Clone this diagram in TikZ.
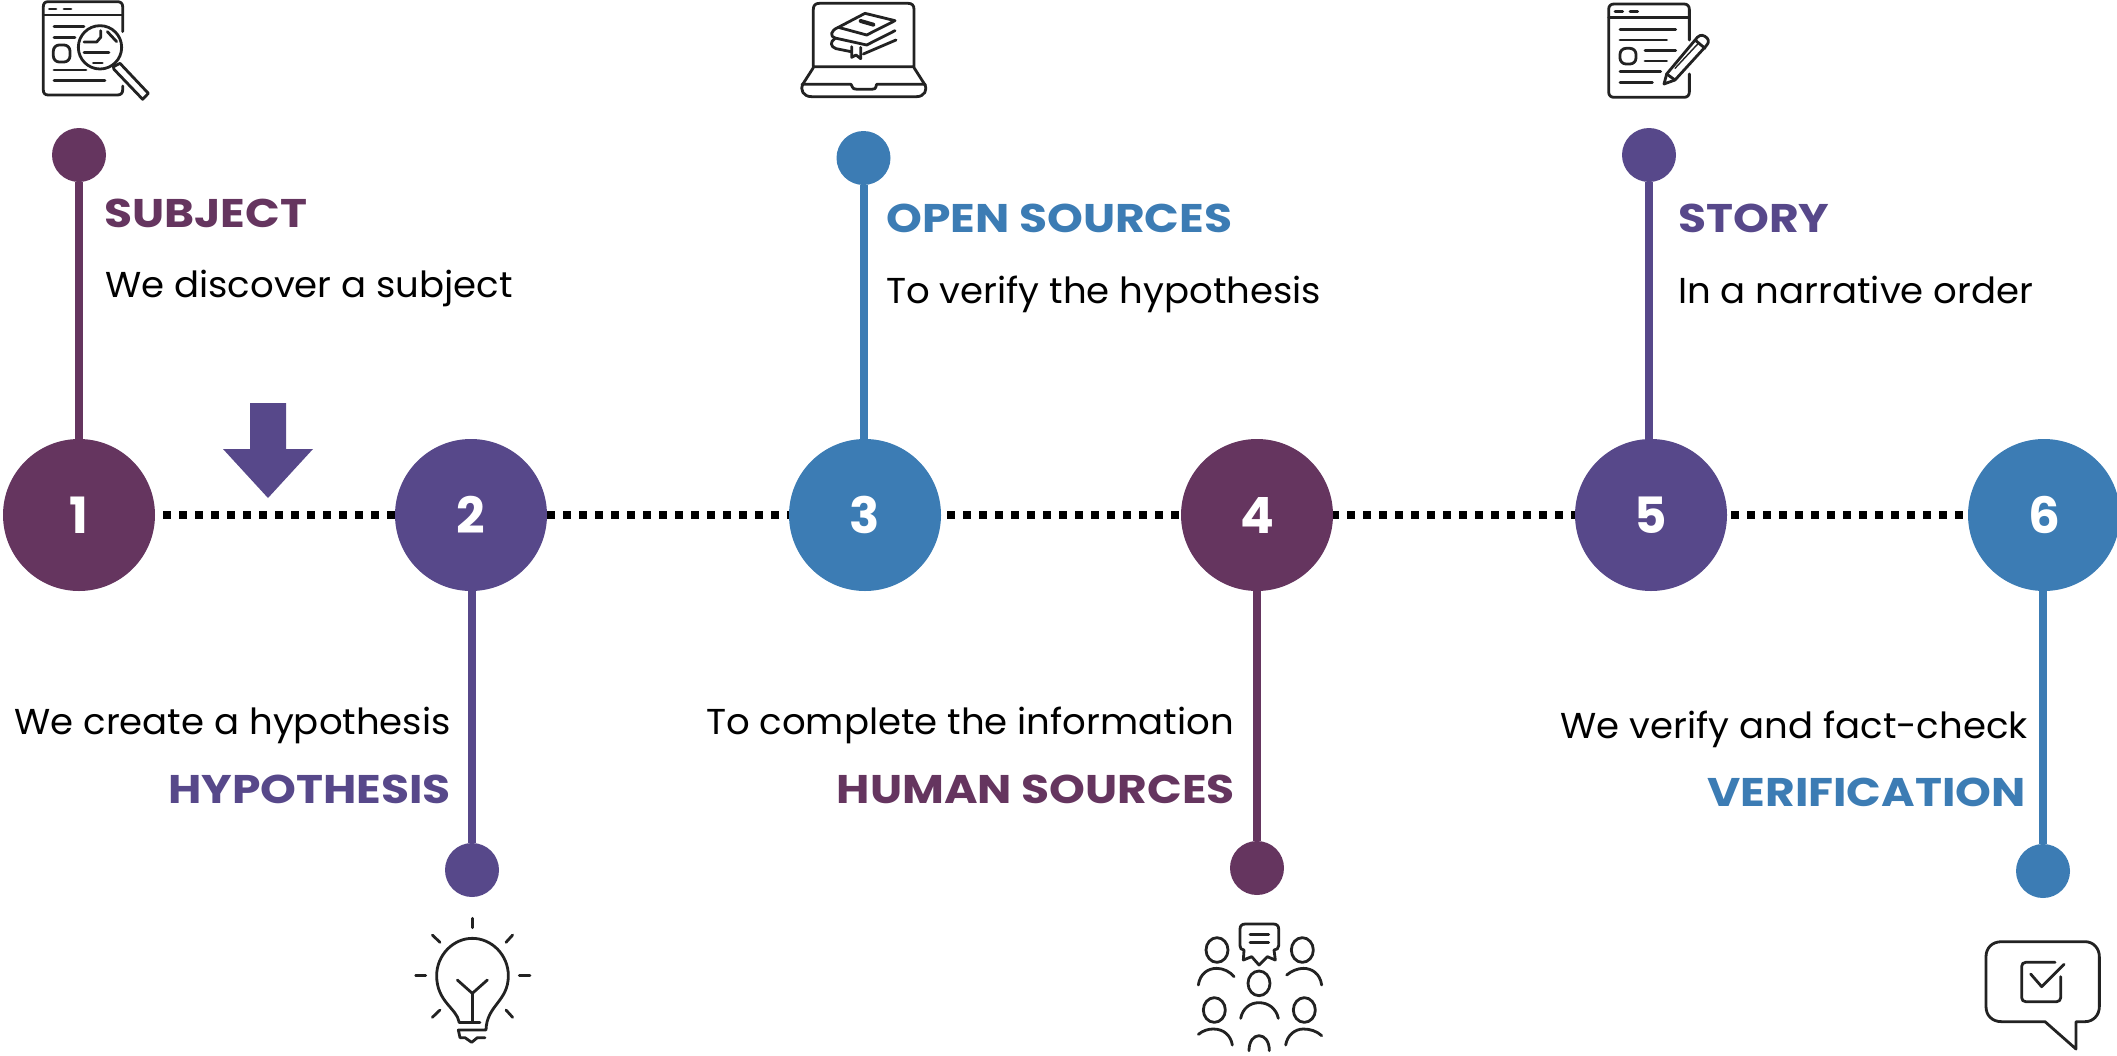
\documentclass[tikz,border=0pt]{standalone}
\usepackage{fontspec}
\usetikzlibrary{backgrounds}
\setmainfont{Poppins}
\newfontfamily\headfont[FakeStretch=1.14]{Poppins}
\newfontfamily\bodyfont[FakeStretch=1.03]{Poppins}
\definecolor{plum}{HTML}{65355F}
\definecolor{indigo}{HTML}{57488A}
\definecolor{steel}{HTML}{3C7CB4}
\definecolor{ink}{HTML}{222222}
\tikzset{
  bigdot/.style={circle,minimum size=152pt,inner sep=0pt,text=white,font=\fontsize{50}{50}\selectfont\bfseries},
  smalldot/.style={circle,minimum size=54pt,inner sep=0pt},
  stem/.style={line width=8pt},
  linkline/.style={line width=8pt,black,dash pattern=on 8pt off 8pt,shorten <=8pt},
  headtxt/.style={inner sep=0pt,font=\headfont\fontsize{40}{44}\selectfont\bfseries},
  bodytxt/.style={inner sep=0pt,text=black,font=\bodyfont\fontsize{36}{42}\selectfont},
  icon/.style={line width=2.8pt,ink,line cap=round,line join=round}
}
\begin{document}
\begin{tikzpicture}[x=1pt,y=-1pt]
\useasboundingbox (0,0) rectangle (2117,1055);
\node[bigdot,fill=plum] (c1) at (79,515) {1};
\node[bigdot,fill=indigo] (c2) at (471,515) {2};
\node[bigdot,fill=steel] (c3) at (865,515) {3};
\node[bigdot,fill=plum] (c4) at (1257,515) {4};
\node[bigdot,fill=indigo] (c5) at (1651,515) {5};
\node[bigdot,fill=steel] (c6) at (2044,515) {6};
\begin{scope}[on background layer]
\draw[linkline] (c1) -- (c6);
\end{scope}
% small dots and stems
\node[smalldot,fill=plum] (t1) at (79,155) {};
\node[smalldot,fill=steel] (t3) at (863.5,158) {};
\node[smalldot,fill=indigo] (t5) at (1649,155) {};
\node[smalldot,fill=indigo] (b2) at (472,870) {};
\node[smalldot,fill=plum] (b4) at (1257,868) {};
\node[smalldot,fill=steel] (b6) at (2043,871) {};
\draw[stem,plum] (c1) -- (t1);
\draw[stem,steel] (c3.north -| t3) -- (t3);
\draw[stem,indigo] (c5.north -| t5) -- (t5);
\draw[stem,indigo] (c2.south -| b2) -- (b2);
\draw[stem,plum] (c4) -- (b4);
\draw[stem,steel] (c6.south -| b6) -- (b6);
% arrow
\fill[indigo] (250,403) -- (286,403) -- (286,449) -- (313,449) -- (268,498) -- (223,449) -- (250,449) -- cycle;
% texts
\node[headtxt,text=plum,anchor=base west] (h1) at (104,227) {SUBJECT};
\node[bodytxt,anchor=base west] (d1) at (105,297) {We discover a subject};
\node[headtxt,text=steel,anchor=base west] (h3) at (886,232) {OPEN SOURCES};
\node[bodytxt,anchor=base west] (d3) at (886,303) {To verify the hypothesis};
\node[headtxt,text=indigo,anchor=base west] (h5) at (1678,232) {STORY};
\node[bodytxt,anchor=base west] (d5) at (1678,303) {In a narrative order};
\node[bodytxt,anchor=base east] (d2) at (451,734) {We create a hypothesis};
\node[headtxt,text=indigo,anchor=base east] (h2) at (451,803) {HYPOTHESIS};
\node[bodytxt,anchor=base east] (d4) at (1234,734) {To complete the information};
\node[headtxt,text=plum,anchor=base east] (h4) at (1235,803) {HUMAN SOURCES};
\node[bodytxt,anchor=base east] (d6) at (2028,738) {We verify and fact-check};
\node[headtxt,text=steel,anchor=base east] (h6) at (2026,806) {VERIFICATION};
% icon 1
\begin{scope}[shift={(0,0)},scale=1/3,icon]
\draw (368,95) -- (368,20) .. controls (368,10) and (362,5) .. (352,5) -- (145,5) .. controls (135,5) and (130,10) .. (130,20) -- (130,270) .. controls (130,280) and (135,285) .. (145,285) -- (352,285) .. controls (362,285) and (368,280) .. (368,270) -- (368,258);
\draw (130,45) -- (368,45);
\draw (148,27) -- (168,27); \draw (192,27) -- (213,27);
\draw (162,80) -- (252,80); \draw (162,113) -- (225,113);
\draw[rounded corners=6pt] (160,135) rectangle (210,186);
\draw (162,210) -- (258,210); \draw (162,241) -- (315,241);
\draw (300,142) circle[radius=65];
\draw (340,200) -- (360,190) -- (445,280) -- (428,298) -- (342,208) -- cycle;
\draw (252,126) -- (290,126) -- (302,112) -- (302,92);
\draw (322,95) -- (350,125);
\draw (252,158) -- (327,158); \draw (280,189) -- (307,189);
\end{scope}
% icon 3
\begin{scope}[shift={(770,0)},scale=1/3,icon]
\draw (130,200) -- (130,28) .. controls (130,16) and (136,10) .. (148,10) -- (414,10) .. controls (426,10) and (432,16) .. (432,28) -- (432,200) -- cycle;
\draw (130,203) -- (100,250) .. controls (88,270) and (100,290) .. (125,290) -- (440,290) .. controls (462,290) and (476,270) .. (462,250) -- (432,203);
\draw (96,253) -- (243,253) .. controls (250,268) and (252,268) .. (262,268) -- (305,268) .. controls (314,268) and (316,268) .. (320,253) -- (466,253);
\draw (285,40) -- (375,62) -- (290,105) -- (205,82) -- cycle;
\draw (205,82) .. controls (180,92) and (180,110) .. (195,114) -- (290,135) -- (375,92);
\draw (195,115) .. controls (180,125) and (180,140) .. (198,146) -- (243,155);
\draw (280,162) -- (378,120);
\draw (245,140) -- (245,172) -- (258,165) -- (272,176) -- (272,142);
\draw[line width=4pt] (272,63) -- (310,74);
\end{scope}
% icon 5
\begin{scope}[shift={(1570,0)},scale=1/3,icon]
\draw (358,120) -- (358,28) .. controls (358,18) and (352,12) .. (342,12) -- (132,12) .. controls (122,12) and (116,18) .. (116,28) -- (116,276) .. controls (116,286) and (122,292) .. (132,292) -- (342,292) .. controls (352,292) and (358,286) .. (358,276) -- (358,222);
\draw (116,52) -- (358,52);
\draw (135,34) -- (158,34); \draw (180,34) -- (203,34);
\draw (150,88) -- (317,88); \draw (150,120) -- (290,120);
\draw[rounded corners=6pt] (150,145) rectangle (198,192);
\draw (225,152) -- (317,152); \draw (225,183) -- (290,183);
\draw (150,215) -- (272,215); \draw (150,247) -- (247,247);
\draw (282,252) -- (290,222) -- (382,112) .. controls (392,102) and (402,105) .. (412,115) .. controls (418,124) and (415,130) .. (408,138) -- (315,240) -- cycle;
\draw (290,222) -- (315,240);
\draw (375,120) -- (405,145);
\draw[line width=1.4pt] (315,205) -- (385,130);
\end{scope}
% icon 2
\begin{scope}[shift={(380,905)},scale=1/3,icon]
\draw (277,40) -- (277,68);
\draw (157,90) -- (180,112); \draw (398,90) -- (378,112);
\draw (107,212) -- (137,212); \draw (418,212) -- (450,212);
\draw (157,337) -- (180,315); \draw (398,337) -- (378,315);
\draw (237,350) .. controls (230,310) and (170,290) .. (170,212) .. controls (170,150) and (220,100) .. (277,100) .. controls (335,100) and (385,150) .. (385,212) .. controls (385,290) and (320,300) .. (318,375) -- (235,375) -- (240,398) -- (255,398) -- (275,412) -- (292,398) -- (315,398);
\draw (232,225) -- (277,265) -- (322,225);
\draw (277,265) -- (277,350);
\draw (237,352) -- (300,352);
\end{scope}
% icon 4
\begin{scope}[shift={(1170,905)},scale=1/3,icon]
\draw (222,135) .. controls (214,135) and (210,130) .. (210,122) -- (210,72) .. controls (210,62) and (216,57) .. (226,57) -- (310,57) .. controls (320,57) and (326,62) .. (326,72) -- (326,122) .. controls (326,130) and (320,135) .. (312,135) -- (316,165) -- (292,155) -- (267,180) -- (245,155) -- (220,165) -- cycle;
\draw (240,88) -- (296,88); \draw (240,112) -- (296,112);
\foreach \hx/\hy in {141/135,397/135,267/235,133/315,403/315}
  \draw (\hx,\hy) ellipse[x radius=33,y radius=37];
\draw (85,240) .. controls (90,205) and (115,190) .. (140,190) .. controls (160,190) and (180,200) .. (192,215);
\draw (350,210) .. controls (365,197) and (385,190) .. (400,190) .. controls (425,190) and (450,205) .. (455,240);
\draw (212,340) .. controls (218,310) and (240,293) .. (267,293) .. controls (295,293) and (318,310) .. (325,340);
\draw (85,388) .. controls (100,376) and (115,372) .. (130,372) .. controls (160,372) and (182,390) .. (187,420);
\draw (347,420) .. controls (352,390) and (375,372) .. (400,372) .. controls (420,372) and (440,378) .. (455,392);
\draw (237,437) .. controls (237,410) and (250,392) .. (267,392) .. controls (285,392) and (298,410) .. (298,437);
\end{scope}
% icon 6
\begin{scope}[shift={(1960,905)},scale=1/3,icon]
\draw (255,350) -- (125,350) .. controls (95,350) and (78,330) .. (78,305) -- (78,155) .. controls (78,130) and (95,110) .. (125,110) -- (375,110) .. controls (400,110) and (418,130) .. (418,155) -- (418,305) .. controls (418,330) and (400,350) .. (375,350) -- (348,350) -- (348,432) -- cycle;
\draw (285,172) -- (197,172) .. controls (190,172) and (185,177) .. (185,184) -- (185,278) .. controls (185,285) and (190,290) .. (197,290) -- (290,290) .. controls (297,290) and (302,285) .. (302,278) -- (302,215);
\draw (212,207) -- (245,245) -- (312,178);
\end{scope}
\end{tikzpicture}
\end{document}
